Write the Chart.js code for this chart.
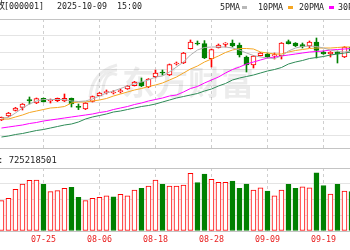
<!DOCTYPE html>
<html>
<head>
<meta charset="utf-8">
<script src="https://cdn.jsdelivr.net/npm/chart.js@4.4.1/dist/chart.umd.min.js"></script>
<style>
  html, body { margin: 0; padding: 0; background: #fff; }
  #wrap { position: relative; width: 350px; height: 250px; overflow: hidden;
          font-family: "DejaVu Sans Mono", monospace; font-size: 8.3px; color: #222; }
  .t { position: absolute; white-space: nowrap; line-height: 10px; }
  .cjk { font-family: "Noto Sans CJK SC", sans-serif; font-size: 10px; }
  .sw { position: absolute; width: 5px; height: 3px; }
  canvas { position: absolute; left: 0; }
</style>
</head>
<body>
<div id="wrap">
  <canvas id="price" width="350" height="150" style="top:0"></canvas>
  <canvas id="vol" width="350" height="100" style="top:150px"></canvas>

  <!-- title line -->
  <div class="t cjk" style="left:-35px;top:0">上证指数</div>
  <div class="t" style="left:4px;top:1px">[000001]</div>
  <div class="t" style="left:57px;top:1px">2025-10-09</div>
  <div class="t" style="left:117px;top:1px">15:00</div>

  <!-- MA legend -->
  <div class="t" style="left:220px;top:2px">5PMA</div>
  <div class="sw" style="left:242px;top:6px;background:#b8b8b8"></div>
  <div class="t" style="left:258px;top:2px">10PMA</div>
  <div class="sw" style="left:288px;top:6px;background:#f5a623"></div>
  <div class="t" style="left:299px;top:2px">20PMA</div>
  <div class="sw" style="left:329px;top:6px;background:#ff00ff"></div>
  <div class="t" style="left:338px;top:2px">30PMA</div>

  <!-- volume label -->
  <div class="t cjk" style="left:-32px;top:155px">成交量</div>
  <div class="t" style="left:-2px;top:155px;font-size:8.9px">: 725218501</div>
</div>

<script>
// ---- data ----
var dates = ['07-17','07-18','07-21','07-22','07-23','07-24','07-25','07-28','07-29','07-30',
  '07-31','08-01','08-04','08-05','08-06','08-07','08-08','08-11','08-12','08-13',
  '08-14','08-15','08-18','08-19','08-20','08-21','08-22','08-25','08-26','08-27',
  '08-28','08-29','09-01','09-02','09-03','09-04','09-05','09-08','09-09','09-10',
  '09-11','09-12','09-15','09-16','09-17','09-18','09-19','09-22','09-23','09-24','09-25'];

var opens = [3490,3510,3538,3553,3592,3575,3598,3585,3587,3585,
  3598,3558,3545,3583,3612,3627,3625,3632,3645,3662,
  3680,3655,3707,3730,3715,3770,3775,3847,3875,3872,
  3797,3852,3868,3875,3865,3805,3765,3812,3820,3810,
  3812,3882,3875,3867,3860,3880,3830,3820,3830,3805,3855];
var closes = [3503,3525,3550,3570,3585,3597,3582,3590,3598,3598,
  3570,3553,3575,3607,3625,3632,3630,3637,3660,3680,
  3660,3695,3725,3725,3767,3775,3825,3880,3870,3800,
  3842,3865,3875,3860,3815,3765,3810,3825,3805,3817,
  3875,3872,3860,3857,3880,3838,3820,3830,3820,3855,3835];
var highs = [3505,3528,3553,3572,3605,3600,3600,3595,3600,3620,
  3600,3570,3577,3610,3628,3640,3637,3645,3663,3683,
  3700,3697,3740,3740,3770,3780,3828,3890,3885,3887,
  3845,3870,3877,3890,3875,3810,3813,3828,3825,3825,
  3877,3890,3877,3875,3885,3900,3835,3832,3835,3857,3862];
var lows = [3487,3508,3535,3540,3570,3572,3580,3575,3582,3582,
  3555,3542,3542,3580,3610,3620,3620,3625,3643,3660,
  3657,3652,3700,3715,3712,3765,3772,3845,3865,3797,
  3755,3850,3855,3855,3805,3730,3750,3810,3800,3795,
  3795,3870,3857,3850,3852,3800,3818,3805,3775,3802,3830];

var ma5 = [3500,3502.5,3525,3550,3570,3585,3592.5,3592.5,3592.5,3592.5,
  3585,3582.5,3585,3595,3610,3625,3635,3647.5,3660,3670,
  3680,3690,3705,3710,3730,3755,3780,3815,3840,3852.5,
  3855,3855,3855,3850,3840,3825,3812.5,3805,3800,3797.5,
  3810,3835,3850,3857.5,3860,3857.5,3850,3840,3832.5,3830,3835];
var ma10 = [3495,3495,3505,3515,3527.5,3535,3542.5,3550,3552.5,3557.5,
  3575,3580,3580,3585,3590,3597.5,3610,3620,3630,3640,
  3647.5,3657.5,3665,3675,3690,3705,3725,3745,3760,3780,
  3795,3810,3827.5,3840,3847.5,3847.5,3845,3830,3825,3820,
  3820,3830,3837.5,3842.5,3847.5,3850,3850,3850,3852.5,3855,3855];
var ma20 = [3450,3455,3460,3465,3472.5,3477.5,3485,3490,3495,3500,
  3505,3510,3515,3520,3527.5,3532.5,3542.5,3550,3557.5,3567.5,
  3575,3585,3592.5,3600,3610,3615,3630,3647.5,3657.5,3675,
  3690,3705,3725,3742.5,3755,3770,3780,3790,3800,3805,
  3810,3815,3820,3825,3830,3832.5,3835,3840,3842.5,3845,3847.5];
var ma30 = [3405,3410,3417.5,3422.5,3430,3437.5,3442.5,3450,3457.5,3465,
  3470,3480,3495,3505,3512.5,3520,3530,3535,3542.5,3550,
  3557.5,3562.5,3570,3580,3590,3600,3607.5,3615,3622.5,3635,
  3645,3660,3672.5,3690,3700,3707.5,3715,3725,3735,3742.5,
  3752.5,3770,3780,3787.5,3797.5,3802.5,3807.5,3815,3820,3825,3830];

// volume in 亿, red (1) / green (0) as drawn in the volume panel
var volumes = [4.81,5.19,6.62,7.46,8.05,8.09,7.41,6.24,6.40,6.78,
  6.94,5.35,4.81,5.19,5.35,5.60,5.44,5.82,5.60,6.51,
  6.78,7.14,8.09,7.41,7.14,7.14,7.30,9.16,7.67,9.05,
  8.20,7.73,7.73,7.94,6.78,7.46,6.51,6.87,6.35,5.60,
  6.51,7.41,6.78,7.03,6.87,9.25,7.19,5.87,7.41,6.35,6.24];
var volUp = [1,1,1,1,1,1,0,1,1,1,
  0,0,1,1,1,1,0,1,1,1,
  0,1,1,0,1,1,1,1,0,0,
  1,1,1,0,0,0,1,1,0,1,
  1,0,0,1,1,0,0,1,0,1,0];

var tickDates = ['07-25','08-06','08-18','08-28','09-09','09-19'];

// ---- axis config ----
var X_MIN = -0.21, X_MAX = 49.79;
var Y_MIN = 3350, Y_MAX = 3995, Y_STEP = 83.5;
var V_MIN = 0, V_MAX = 10, V_STEP = 2.5;

var RED = '#ff0000', GREEN = '#008000';
var GRID = '#e4e4e4', EDGE = '#c4c4c4';

function isUp(i) { return closes[i] >= opens[i]; }
function pts(arr) { return arr.map(function (v, i) { return { x: i, y: v }; }); }
var tickIdx = tickDates.map(function (d) { return dates.indexOf(d); });

function xScale() {
  return {
    type: 'linear', min: X_MIN, max: X_MAX, offset: false,
    ticks: { display: false },
    grid: { offset: false, drawTicks: false, color: '#cfcfcf' },
    border: { display: false, dash: [3, 3] },
    afterBuildTicks: function (s) {
      s.ticks = tickIdx.map(function (v) { return { value: v }; });
    }
  };
}
function yScale(min, max, step) {
  return {
    min: min, max: max,
    ticks: { display: false },
    grid: {
      drawTicks: false,
      color: function (c) {
        var v = c.tick ? c.tick.value : 0;
        return (v === min || v === max) ? EDGE : GRID;
      }
    },
    border: { display: false },
    afterBuildTicks: function (s) {
      var t = [];
      for (var v = max; v > min + 1e-6; v -= step) t.push({ value: v });
      t.push({ value: min });
      s.ticks = t;
    }
  };
}

var watermark = {
  id: 'watermark',
  beforeDatasetsDraw: function (chart) {
    var c = chart.ctx;
    c.save();
    c.fillStyle = 'rgba(0,0,0,0.075)';
    c.strokeStyle = 'rgba(0,0,0,0.075)';
    c.font = 'bold 33px "Noto Sans CJK SC"';
    c.textBaseline = 'middle';
    c.fillText('东方财富', 122, 82);
    c.lineWidth = 3;
    for (var k = 0; k < 3; k++) {
      c.beginPath();
      c.moveTo(90 + k * 6, 97);
      c.quadraticCurveTo(92 + k * 6, 72 - k * 2, 117, 65 + k * 5);
      c.stroke();
    }
    c.restore();
  }
};

function line(label, data, color) {
  return { type: 'line', label: label, data: pts(data), borderColor: color,
           borderWidth: 1, pointRadius: 0, tension: 0, order: 0 };
}

new Chart(document.getElementById('price'), {
  type: 'bar',
  data: {
    datasets: [
      line('5PMA', ma5, '#b0b0b0'),
      line('10PMA', ma10, '#f5a623'),
      line('20PMA', ma20, '#ff00ff'),
      line('30PMA', ma30, '#2e8b57'),
      {
        label: 'body',
        data: dates.map(function (d, i) { return { x: i, y: [opens[i], closes[i]] }; }),
        barThickness: 5, borderWidth: 1, borderSkipped: false, grouped: false, order: 1,
        backgroundColor: function (c) { return isUp(c.dataIndex) ? '#fff' : GREEN; },
        borderColor: function (c) { return isUp(c.dataIndex) ? RED : GREEN; }
      },
      {
        label: 'wick',
        data: dates.map(function (d, i) { return { x: i, y: [lows[i], highs[i]] }; }),
        barThickness: 1, borderWidth: 0, grouped: false, order: 2,
        backgroundColor: function (c) { return isUp(c.dataIndex) ? RED : GREEN; }
      }
    ]
  },
  options: {
    responsive: false, animation: false, events: [],
    layout: { padding: { top: 19, bottom: 2, left: 0, right: 0 } },
    plugins: { legend: { display: false }, tooltip: { enabled: false } },
    scales: { x: xScale(), y: yScale(Y_MIN, Y_MAX, Y_STEP) }
  },
  plugins: [watermark]
});

var dateLabels = {
  id: 'dateLabels',
  afterDraw: function (chart) {
    var c = chart.ctx, xs = chart.scales.x;
    c.save();
    c.fillStyle = '#e82020';
    c.font = '8.3px "DejaVu Sans Mono"';
    c.textAlign = 'center';
    c.textBaseline = 'middle';
    tickDates.forEach(function (d, k) {
      c.fillText(d, xs.getPixelForValue(tickIdx[k]), 90);
    });
    c.restore();
  }
};

new Chart(document.getElementById('vol'), {
  type: 'bar',
  data: {
    datasets: [{
      label: 'volume',
      data: pts(volumes),
      barThickness: 5, borderWidth: 1, borderSkipped: false,
      backgroundColor: function (c) { return volUp[c.dataIndex] ? '#fff' : GREEN; },
      borderColor: function (c) { return volUp[c.dataIndex] ? RED : GREEN; }
    }]
  },
  options: {
    responsive: false, animation: false, events: [],
    layout: { padding: { top: 18, bottom: 19, left: 0, right: 0 } },
    plugins: { legend: { display: false }, tooltip: { enabled: false } },
    scales: { x: xScale(), y: yScale(V_MIN, V_MAX, V_STEP) }
  },
  plugins: [dateLabels]
});
</script>
</body>
</html>
